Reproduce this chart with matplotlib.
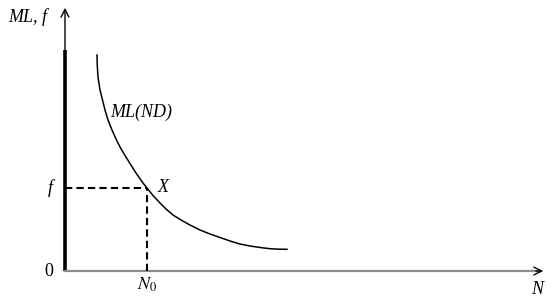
import matplotlib.pyplot as plt
import numpy as np

# Curve ML(ND) (origin at the axes corner)
N = [32, 32.3, 33, 35, 37.5, 40, 43, 47, 51, 55, 60, 65, 71, 78, 82, 88, 95, 101, 108,
     116, 125, 135, 145, 155, 165, 175, 185, 195, 205, 214, 222]
ML = [216, 205, 194, 181, 171, 161, 151, 141, 132, 124, 115.5, 107.5, 98, 88, 83, 75.5, 68, 62, 56,
      51, 46, 41, 37, 33.5, 30, 27, 25, 23.5, 22.3, 21.8, 21.7]

# Equilibrium point X
N0 = 82
f = 83

plt.rcParams['font.family'] = ['Liberation Serif', 'DejaVu Serif']

fig = plt.figure(figsize=(5.52, 2.99), dpi=100)
ax = fig.add_axes([0, 0, 1, 1])
ax.set_xlim(-65, 487)
ax.set_ylim(-28, 271)
ax.axis('off')

# Axes
ax.plot([0, 0], [0, 221], color='black', lw=2.6, solid_capstyle='butt')
ax.annotate('', xy=(0, 266), xytext=(0, 218),
            arrowprops=dict(arrowstyle='->', color='black', lw=1.0, mutation_scale=14))
ax.plot([0, 474], [0, 0], color='#8c8c8c', lw=1.6)
ax.annotate('', xy=(481, 0), xytext=(468, 0),
            arrowprops=dict(arrowstyle='->', color='black', lw=1.0, mutation_scale=14))

# Curve
ax.plot(N, ML, color='black', lw=1.1)

# Dashed guides
ax.plot([0, N0], [f, f], 'k--', lw=1.5, dashes=(3.5, 2))
ax.plot([N0, N0], [0, f], 'k--', lw=1.5, dashes=(3.5, 2))

# Labels
fs = 13
ax.text(-57, 254, 'ML, f', fontsize=fs, style='italic', ha='left', va='center')
ax.text(-12, f, 'f', fontsize=fs, style='italic', ha='right', va='center')
ax.text(-12, 0, '0', fontsize=fs, ha='right', va='center')
ax.text(N0, -14, r'$N_0$', fontsize=fs, ha='center', va='center',
        math_fontfamily='stix')
ax.text(472, -19, 'N', fontsize=fs, style='italic', ha='center', va='center')
ax.text(93, f + 1, 'X', fontsize=fs, style='italic', ha='left', va='center')
ax.text(45, 159, 'ML(ND)', fontsize=fs, style='italic', ha='left', va='center')

fig.savefig('out.png', dpi=100)
